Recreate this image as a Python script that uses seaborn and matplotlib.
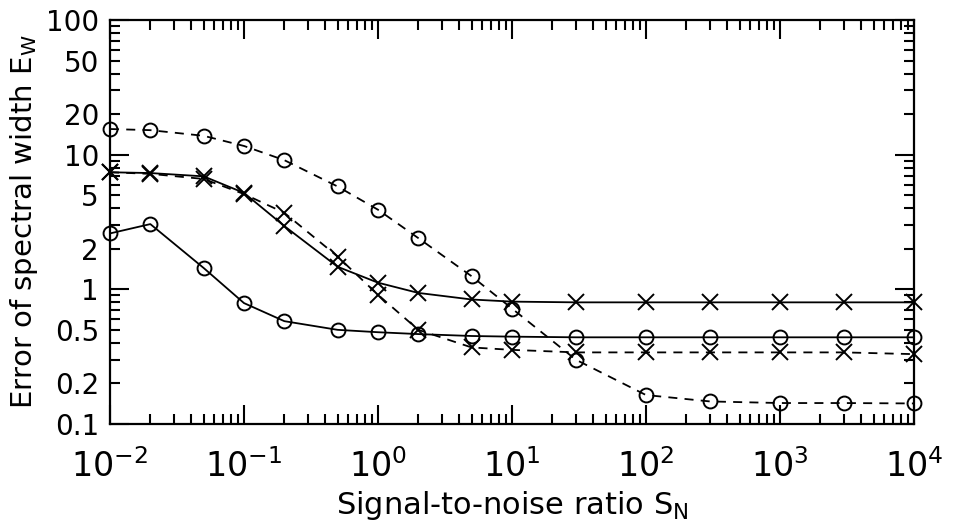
import numpy as np
import pandas as pd
import matplotlib
matplotlib.use('Agg')
import matplotlib.pyplot as plt
import seaborn as sns

# signal-to-noise ratio values (x) and error of spectral width for 4 cases
sn = [0.01, 0.02, 0.05, 0.1, 0.2, 0.5, 1, 2, 5, 10, 30, 100, 300, 1000, 3000, 10000]
circ_dashed = [15.5, 15.2, 13.8, 11.6, 9.1, 5.8, 3.9, 2.4, 1.25, 0.72, 0.30,
               0.164, 0.147, 0.143, 0.143, 0.142]
cross_solid = [7.4, 7.3, 6.9, 5.2, 2.95, 1.47, 1.12, 0.94, 0.84, 0.81, 0.80,
               0.80, 0.80, 0.80, 0.80, 0.80]
cross_dashed = [7.4, 7.2, 6.6, 5.1, 3.7, 1.75, 0.91, 0.50, 0.37, 0.355, 0.34,
                0.34, 0.34, 0.34, 0.34, 0.33]
circ_solid = [2.6, 3.05, 1.44, 0.79, 0.58, 0.50, 0.48, 0.465, 0.45, 0.445, 0.44,
              0.44, 0.44, 0.44, 0.44, 0.44]

x_decades = [-2, -1, 0, 1, 2, 3, 4]
y_major = [0.1, 1, 10, 100]
y_major_labels = ['0.1', '1', '10', '100']

sns.set_style('ticks')
plt.rcParams['font.family'] = ['DejaVu Sans']
plt.rcParams['mathtext.fontset'] = 'dejavusans'
plt.rcParams['text.color'] = 'black'
plt.rcParams['axes.labelcolor'] = 'black'
plt.rcParams['xtick.color'] = 'black'
plt.rcParams['ytick.color'] = 'black'

fig = plt.figure(figsize=(9.54, 5.26), dpi=100)
ax = fig.add_axes([0.1153, 0.194, 0.8427, 0.768])

series = [
    (circ_dashed, 'o', (0, (5, 4))),
    (cross_solid, 'x', '-'),
    (cross_dashed, 'x', (0, (5, 4))),
    (circ_solid, 'o', '-'),
]
for vals, mk, ls in series:
    df = pd.DataFrame({'sn': sn, 'err': vals})
    sns.lineplot(data=df, x='sn', y='err', ax=ax, color='black', linewidth=1.3,
                 linestyle=ls, marker=mk, markersize=10 if mk == 'o' else 11,
                 markerfacecolor='none', markeredgecolor='black',
                 markeredgewidth=1.4, clip_on=False, zorder=3)

ax.set_xscale('log')
ax.set_yscale('log')
ax.set_xlim(1e-2, 1e4)
ax.set_ylim(0.1, 100)

# x ticks
ax.set_xticks([10.0 ** d for d in x_decades],
              [r'$10^{%d}$' % d for d in x_decades])
xminor = [k * 10.0 ** d for d in x_decades[:-1] for k in range(2, 10)]
ax.set_xticks(xminor, minor=True)
ax.xaxis.set_minor_formatter(matplotlib.ticker.NullFormatter())

# y ticks, 2 and 5 multiples labelled as well
ax.set_yticks(y_major, y_major_labels)
yminor = [k * 10.0 ** d for d in range(-1, 2) for k in range(2, 10)]
yminor_labels = [('%g' % v) if round(v / 10 ** np.floor(np.log10(v))) in (2, 5) else ''
                 for v in yminor]
ax.set_yticks(yminor, yminor_labels, minor=True)

ax.tick_params(axis='x', which='major', labelsize=24, pad=18)
ax.tick_params(axis='y', which='both', labelsize=20, pad=8)
ax.tick_params(which='both', direction='in', top=True, right=True,
               color='black', width=1.5)
ax.tick_params(which='major', length=14)
ax.tick_params(which='minor', length=7)
for sp in ax.spines.values():
    sp.set_linewidth(1.6)
    sp.set_color('black')

ax.set_xlabel(r'Signal-to-noise ratio S$_\mathrm{N}$', fontsize=22, labelpad=4)
ax.set_ylabel(r'Error of spectral width E$_\mathrm{W}$', fontsize=21, labelpad=4)

fig.savefig('out.png', dpi=100)
